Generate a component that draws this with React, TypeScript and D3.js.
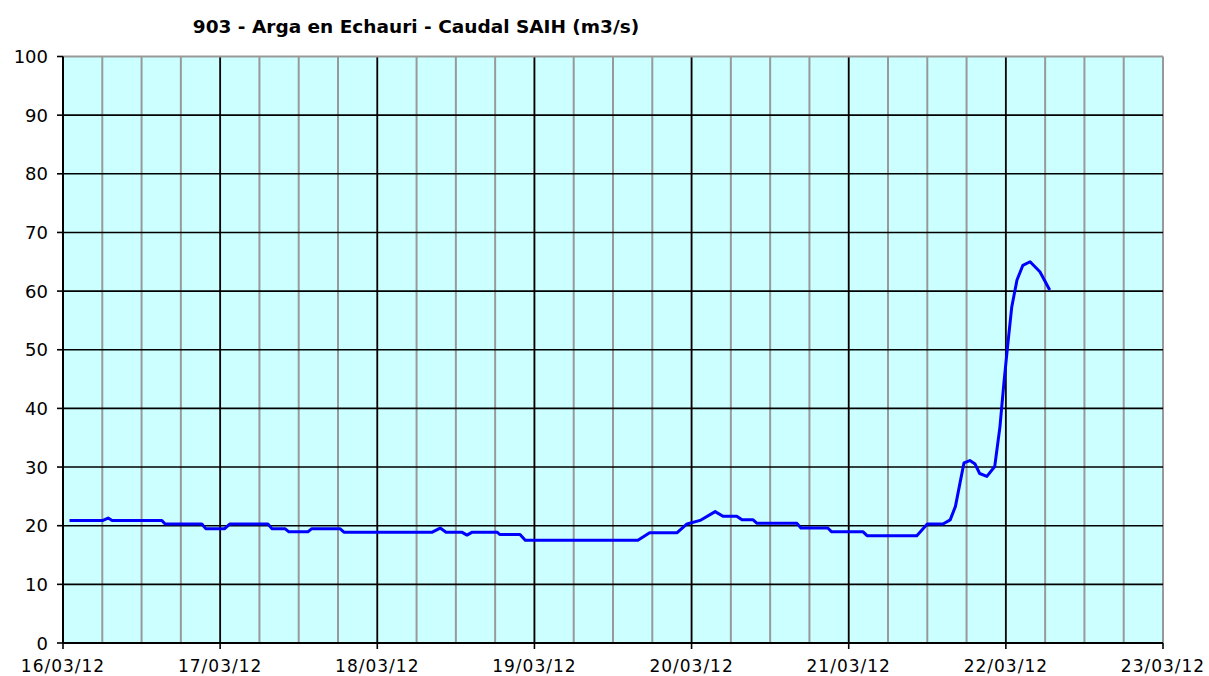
import React from 'react';
import * as d3 from 'd3';

// hours since 16/03/12 00:00 and flow (m3/s)
const hours = [
  1, 6.1, 6.9, 7.5, 15.1, 15.6, 21.2, 21.8, 24.7, 25.5, 31.3, 31.9, 33.9, 34.5,
  37.4, 38, 42.3, 42.9, 56.4, 57.6, 58.5, 60.9, 61.7, 62.5, 66.3, 66.7, 69.8,
  70.6, 87.8, 89.6, 93.8, 95.3, 97.3, 99.6, 100.8, 102.9, 103.7, 105.4, 106,
  112.1, 112.7, 116.8, 117.4, 122.2, 122.8, 130.4, 132, 134.4, 135.5, 136.3,
  137, 137.6, 138.5, 139.3, 140, 141.1, 142.3, 143.1, 143.7, 144.2, 144.9,
  145.7, 146.6, 147.7, 149.2, 150.7,
];
const flow = [
  20.9, 20.9, 21.3, 20.9, 20.9, 20.3, 20.3, 19.5, 19.5, 20.3, 20.3, 19.5, 19.5,
  18.95, 18.95, 19.5, 19.5, 18.9, 18.9, 19.6, 18.9, 18.9, 18.4, 18.9, 18.9,
  18.5, 18.5, 17.5, 17.5, 18.8, 18.8, 20.3, 20.9, 22.4, 21.6, 21.6, 21.0, 21.0,
  20.4, 20.4, 19.6, 19.6, 18.95, 18.95, 18.3, 18.3, 20.3, 20.3, 21, 23.3, 27.3,
  30.7, 31.1, 30.5, 28.9, 28.4, 30.1, 36.9, 44.3, 49.9, 57.3, 61.9, 64.4, 65,
  63.3, 60.2,
];
const dayLabels = ['16/03/12', '17/03/12', '18/03/12', '19/03/12', '20/03/12', '21/03/12', '22/03/12', '23/03/12'];
const yTicks = [0, 10, 20, 30, 40, 50, 60, 70, 80, 90, 100];
const title = '903 - Arga en Echauri - Caudal SAIH (m3/s)';

const W = 1209;
const H = 676;
const left = 63;
const right = 1163;
const top = 56.5;
const bottom = 643;

export default function App() {
  const start = new Date(2012, 2, 16);
  const end = new Date(2012, 2, 23);
  const x = d3.scaleTime().domain([start, end]).range([left, right]);
  const y = d3.scaleLinear().domain([0, 100]).range([bottom, top]);

  const pts = hours.map((h, i) => ({ h, v: flow[i] }));
  const line = d3
    .line<{ h: number; v: number }>()
    .x((d) => x(new Date(start.getTime() + d.h * 3600000)))
    .y((d) => y(d.v));

  const sixHours = d3.timeHour.every(6)!.range(start, d3.timeHour.offset(end, 1));
  const days = d3.timeDay.range(start, d3.timeHour.offset(end, 1));
  const font = 'Verdana, "DejaVu Sans", sans-serif';

  return (
    <svg width={W} height={H} style={{ position: 'absolute', left: 0, top: 0, background: '#fff' }}>
      <rect x={left} y={top} width={right - left} height={bottom - top} fill="#ccffff" />
      {/* 6-hour grid */}
      {sixHours.map((d, i) => (
        <line key={'m' + i} x1={x(d)} x2={x(d)} y1={top} y2={bottom} stroke="#999" strokeWidth={2} />
      ))}
      {/* day grid */}
      {days.slice(1, -1).map((d, i) => (
        <line key={'d' + i} x1={x(d)} x2={x(d)} y1={top} y2={bottom} stroke="#000" strokeWidth={1.6} />
      ))}
      {yTicks.slice(1, -1).map((t) => (
        <line key={'h' + t} x1={left} x2={right} y1={y(t)} y2={y(t)} stroke="#000" strokeWidth={1.6} />
      ))}
      <line x1={left} x2={right} y1={top} y2={top} stroke="#999" strokeWidth={2} />
      {/* axes */}
      <line x1={left} x2={left} y1={top} y2={bottom} stroke="#000" strokeWidth={2} />
      <line x1={left} x2={right} y1={bottom} y2={bottom} stroke="#000" strokeWidth={2} />
      {yTicks.map((t) => (
        <g key={'yt' + t}>
          <line x1={left - 6} x2={left} y1={y(t)} y2={y(t)} stroke="#000" strokeWidth={1.6} />
          <text x={48} y={y(t) + 6.5} textAnchor="end" fontFamily={font} fontSize={18} fill="#000">
            {t}
          </text>
        </g>
      ))}
      {days.map((d, i) => (
        <g key={'xt' + i}>
          <line x1={x(d)} x2={x(d)} y1={bottom} y2={bottom + 6} stroke="#000" strokeWidth={1.6} />
          <text x={x(d)} y={672} textAnchor="middle" fontFamily={font} fontSize={17} fill="#000" letterSpacing={1}>
            {dayLabels[i]}
          </text>
        </g>
      ))}
      <path d={line(pts) ?? ''} fill="none" stroke="#0000ff" strokeWidth={3} strokeLinejoin="round" />
      <text x={416} y={33} textAnchor="middle" fontFamily={font} fontWeight="bold" fontSize={18.5} fill="#000">
        {title}
      </text>
    </svg>
  );
}
